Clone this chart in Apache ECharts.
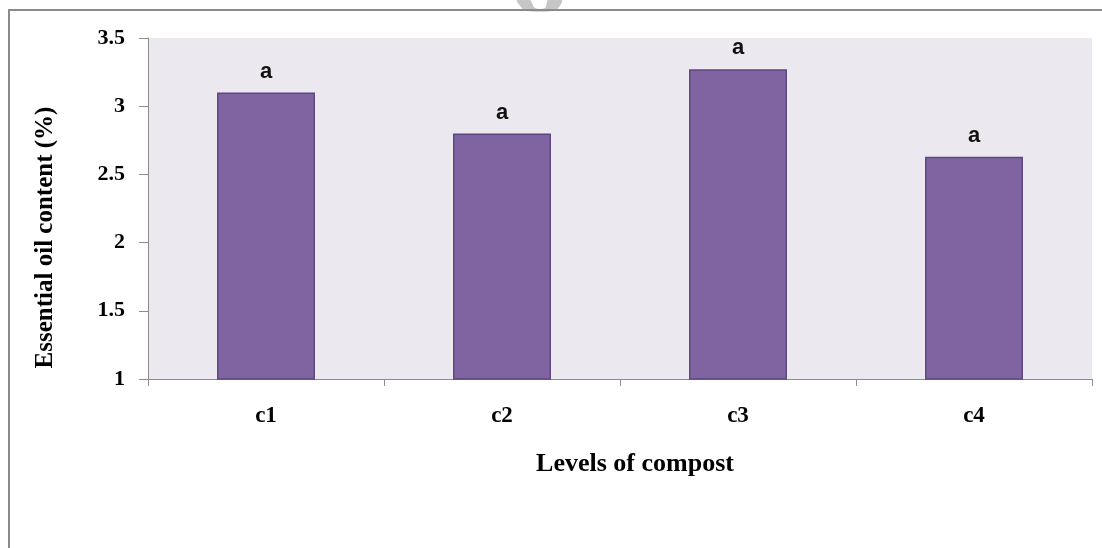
<!DOCTYPE html>
<html>
<head>
<meta charset="utf-8">
<script src="https://cdn.jsdelivr.net/npm/echarts@6/dist/echarts.min.js"></script>
<style>
    html, body { margin: 0; padding: 0; background: #fff; }
    #chart { width: 1102px; height: 548px; }
</style>
</head>
<body>
<div id="chart"></div>
<script>
// compost levels and measured essential oil content
const categories = ["c1", "c2", "c3", "c4"];
const oilContent = [3.1, 2.8, 3.27, 2.63];
const groupLetters = ["a", "a", "a", "a"];
const yTicks = { min: 1, max: 3.5, interval: 0.5 };

const serif = "'Liberation Serif', 'Times New Roman', serif";
const axisGray = "#8c8c8c";

const chart = echarts.init(document.getElementById("chart"));

chart.setOption({
    animation: false,
    backgroundColor: "#fff",
    graphic: [
        // bit of a watermark cut off at the top
        {
            type: "polygon",
            z: -1,
            shape: {
                points: [[517, 0], [521, 7], [526, 11], [554, 11], [559, 7], [562, 0], [548, 0], [545, 8], [535, 8], [530, 0]],
                smooth: 0.3,
            },
            style: { fill: "#c6c6c6" },
        },
        // frame (top and left edges only survive the crop)
        {
            type: "polyline",
            z: 10,
            shape: { points: [[9, 548], [9, 10], [1102, 10]] },
            style: { stroke: "#8a8a8a", lineWidth: 2, fill: null },
        },
    ],
    grid: {
        left: 148,
        top: 38,
        width: 944,
        height: 341,
        show: true,
        backgroundColor: "#ebe9ef",
        borderWidth: 0,
    },
    xAxis: {
        type: "category",
        data: categories,
        name: "Levels of compost",
        nameLocation: "middle",
        nameGap: 72,
        nameTextStyle: { fontFamily: serif, fontWeight: "bold", fontSize: 26, color: "#000", padding: [0, 0, 0, 30] },
        axisLine: { lineStyle: { color: axisGray } },
        axisTick: { show: true, length: 7, alignWithLabel: false, lineStyle: { color: axisGray } },
        axisLabel: { margin: 26, fontFamily: serif, fontWeight: "bold", fontSize: 23, color: "#000" },
    },
    yAxis: {
        type: "value",
        min: yTicks.min,
        max: yTicks.max,
        interval: yTicks.interval,
        name: "Essential oil content (%)",
        nameLocation: "middle",
        nameGap: 90,
        nameRotate: 90,
        nameTextStyle: { fontFamily: serif, fontWeight: "bold", fontSize: 25, color: "#000", padding: [0, 58, 0, 0] },
        axisLine: { show: true, lineStyle: { color: axisGray } },
        axisTick: { show: true, length: 9, lineStyle: { color: axisGray } },
        splitLine: { show: false },
        axisLabel: { margin: 23, fontFamily: serif, fontWeight: "bold", fontSize: 22, color: "#000" },
    },
    series: [
        {
            type: "bar",
            data: oilContent,
            barWidth: "41.5%",
            itemStyle: { color: "#8064a2", borderColor: "#5c4782", borderWidth: 1.5 },
            label: {
                show: true,
                position: "top",
                distance: 10,
                formatter: (p) => groupLetters[p.dataIndex],
                fontFamily: "'Liberation Sans', 'Open Sans', sans-serif",
                fontWeight: "bold",
                fontSize: 22,
                color: "#111",
            },
        },
    ],
});
</script>
</body>
</html>
